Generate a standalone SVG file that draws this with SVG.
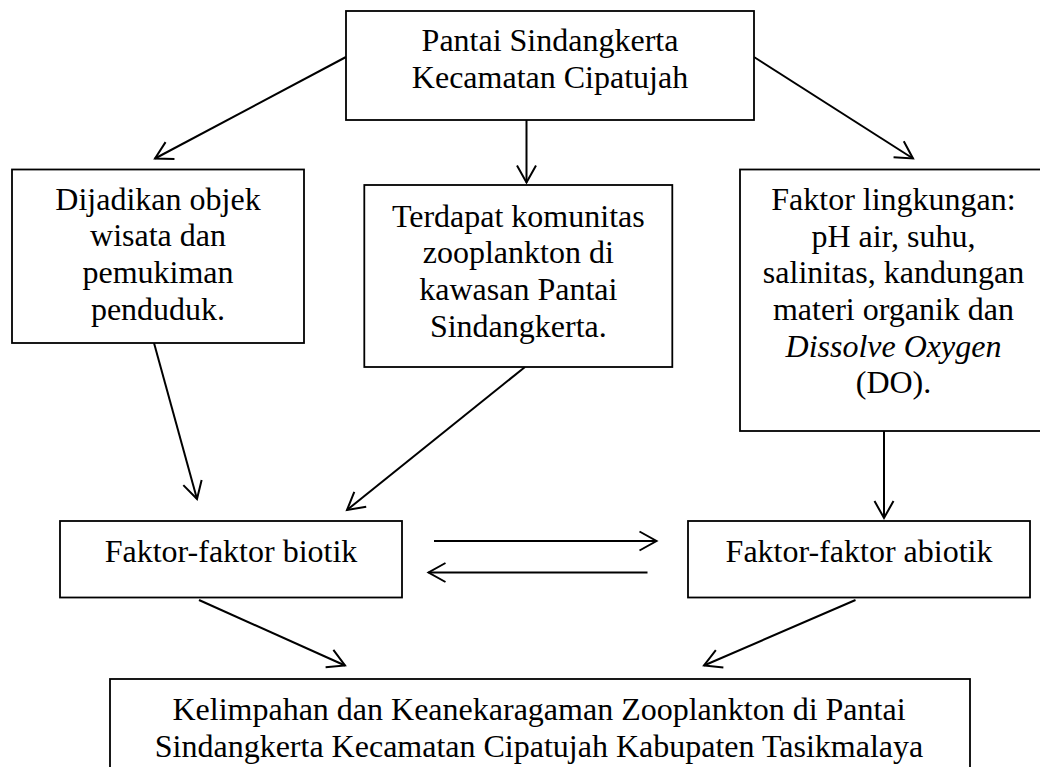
<svg xmlns="http://www.w3.org/2000/svg" width="1040" height="767" viewBox="0 0 1040 767">
<style>
.box{fill:#fff;stroke:#000;stroke-width:1.8}
.t{font-family:"Liberation Serif","Times New Roman",serif;font-size:32px;fill:#000;text-anchor:middle}
.c{fill:none;stroke:#000;stroke-width:2;marker-end:url(#ah)}
</style>
<defs>
<marker id="ah" markerUnits="userSpaceOnUse" viewBox="-19 -11 21 22" markerWidth="21" markerHeight="22" refX="0" refY="0" orient="auto" overflow="visible">
<path d="M-17,-9.5 L0,0 L-17,9.5" fill="none" stroke="#000" stroke-width="2"/>
</marker>
</defs>
<rect width="1040" height="767" fill="#fff"/>
<g id="connectors">
<line class="c" x1="346" y1="57" x2="155" y2="158.5"/>
<line class="c" x1="526.5" y1="120" x2="526.5" y2="182.5"/>
<line class="c" x1="754" y1="57" x2="913" y2="158.5"/>
<line class="c" x1="154" y1="343" x2="197" y2="499"/>
<line class="c" x1="525" y1="367" x2="347" y2="510"/>
<line class="c" x1="884" y1="431" x2="884" y2="518"/>
<line class="c" x1="434" y1="541" x2="656.5" y2="541"/>
<line class="c" x1="647.5" y1="572.5" x2="428.5" y2="572.5"/>
<line class="c" x1="199" y1="600" x2="345" y2="665.5"/>
<line class="c" x1="855.5" y1="600" x2="704" y2="665.5"/>
</g>
<g id="top">
<rect class="box" x="346" y="11" width="408" height="109"/>
<text class="t" x="550" y="50.7">Pantai Sindangkerta</text>
<text class="t" x="550" y="87.7">Kecamatan Cipatujah</text>
</g>
<g id="wisata">
<rect class="box" x="12" y="169.5" width="292" height="173.5"/>
<text class="t" x="158" y="209.5">Dijadikan objek</text>
<text class="t" x="158" y="246.3">wisata dan</text>
<text class="t" x="158" y="283">pemukiman</text>
<text class="t" x="158" y="319.8">penduduk.</text>
</g>
<g id="zooplankton">
<rect class="box" x="364.3" y="185" width="308" height="182"/>
<text class="t" x="518.3" y="226.5">Terdapat komunitas</text>
<text class="t" x="518.3" y="263.2">zooplankton di</text>
<text class="t" x="518.3" y="300">kawasan Pantai</text>
<text class="t" x="518.3" y="336.7">Sindangkerta.</text>
</g>
<g id="lingkungan">
<rect class="box" x="740" y="169.5" width="308" height="261.5"/>
<text class="t" x="893.5" y="210">Faktor lingkungan:</text>
<text class="t" x="893.5" y="246.7">pH air, suhu,</text>
<text class="t" x="893.5" y="283.3">salinitas, kandungan</text>
<text class="t" x="893.5" y="320">materi organik dan</text>
<text class="t" x="893.5" y="356.7" font-style="italic">Dissolve Oxygen</text>
<text class="t" x="893.5" y="393.3">(DO).</text>
</g>
<g id="biotik">
<rect class="box" x="60" y="521" width="342" height="76.5"/>
<text class="t" x="231" y="562.3">Faktor-faktor biotik</text>
</g>
<g id="abiotik">
<rect class="box" x="688" y="521" width="342" height="76.5"/>
<text class="t" x="859" y="562.3">Faktor-faktor abiotik</text>
</g>
<g id="hasil">
<rect class="box" x="110" y="679" width="860" height="120"/>
<text class="t" x="539" y="720.3">Kelimpahan dan Keanekaragaman Zooplankton di Pantai</text>
<text class="t" x="539" y="757.3">Sindangkerta Kecamatan Cipatujah Kabupaten Tasikmalaya</text>
</g>
</svg>
